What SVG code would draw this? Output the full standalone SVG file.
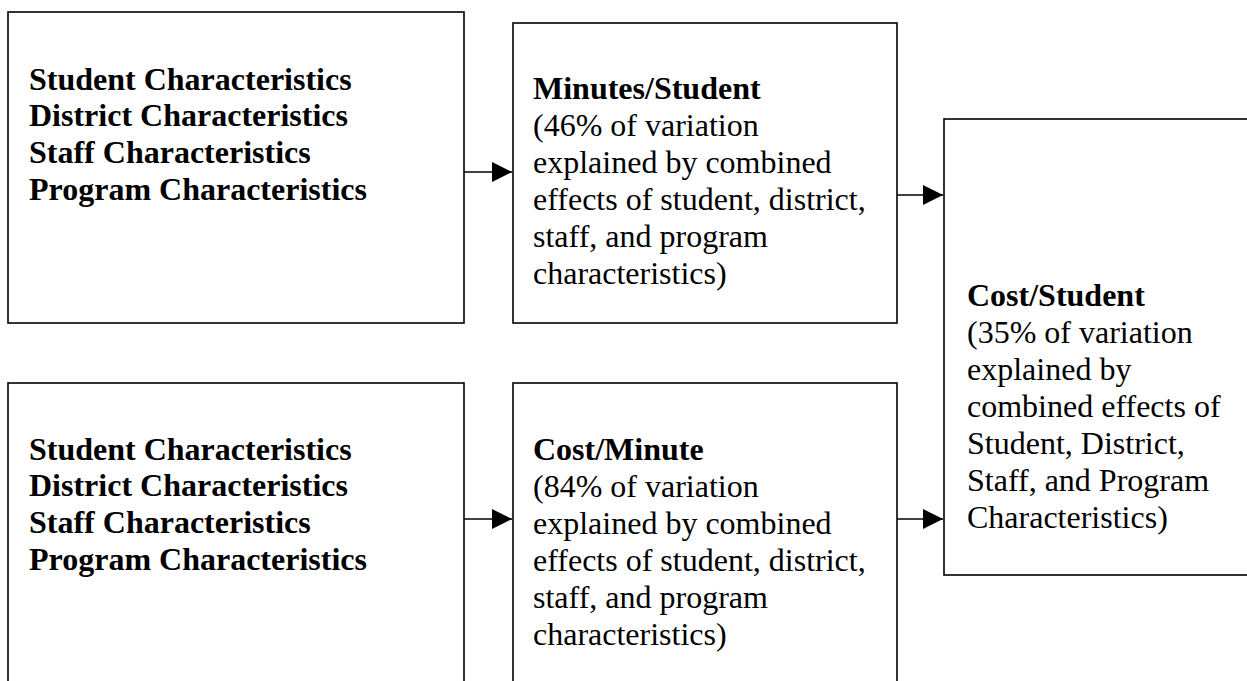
<svg xmlns="http://www.w3.org/2000/svg" width="1247" height="681" viewBox="0 0 1247 681">
  <style>
    .box { fill: #ffffff; stroke: #000000; stroke-width: 1.6; }
    .txt { font-family: "Liberation Serif", "Times New Roman", serif; font-size: 32px; fill: #000000; }
    .b { font-weight: bold; }
    .conn { stroke: #000000; stroke-width: 1.6; fill: none; }
  </style>
  <defs>
    <marker id="arrow" markerUnits="userSpaceOnUse" markerWidth="20" markerHeight="20" refX="20" refY="10" orient="auto">
      <path d="M0,0 L20,10 L0,20 Z" fill="#000000"/>
    </marker>
  </defs>
  <rect width="1247" height="681" fill="#ffffff"/>

  <g id="inputs-top">
    <rect class="box" x="8" y="12" width="456" height="311"/>
    <text class="txt b" x="29">
      <tspan x="29" y="89.5">Student Characteristics</tspan>
      <tspan x="29" y="126.3">District Characteristics</tspan>
      <tspan x="29" y="163.1">Staff Characteristics</tspan>
      <tspan x="29" y="199.9">Program Characteristics</tspan>
    </text>
  </g>

  <g id="minutes-student">
    <rect class="box" x="513" y="23" width="384" height="300"/>
    <text class="txt">
      <tspan class="b" x="533" y="99">Minutes/Student</tspan>
      <tspan x="533" y="136">(46% of variation</tspan>
      <tspan x="533" y="173">explained by combined</tspan>
      <tspan x="533" y="210">effects of student, district,</tspan>
      <tspan x="533" y="247">staff, and program</tspan>
      <tspan x="533" y="284">characteristics)</tspan>
    </text>
  </g>

  <g id="inputs-bottom">
    <rect class="box" x="8" y="383" width="456" height="320"/>
    <text class="txt b">
      <tspan x="29" y="459.5">Student Characteristics</tspan>
      <tspan x="29" y="496.3">District Characteristics</tspan>
      <tspan x="29" y="533.1">Staff Characteristics</tspan>
      <tspan x="29" y="569.9">Program Characteristics</tspan>
    </text>
  </g>

  <g id="cost-minute">
    <rect class="box" x="513" y="383" width="384" height="320"/>
    <text class="txt">
      <tspan class="b" x="533" y="460">Cost/Minute</tspan>
      <tspan x="533" y="497">(84% of variation</tspan>
      <tspan x="533" y="534">explained by combined</tspan>
      <tspan x="533" y="571">effects of student, district,</tspan>
      <tspan x="533" y="608">staff, and program</tspan>
      <tspan x="533" y="645">characteristics)</tspan>
    </text>
  </g>

  <g id="cost-student">
    <rect class="box" x="944" y="119" width="320" height="456"/>
    <text class="txt">
      <tspan class="b" x="967" y="306">Cost/Student</tspan>
      <tspan x="967" y="343">(35% of variation</tspan>
      <tspan x="967" y="380">explained by</tspan>
      <tspan x="967" y="417">combined effects of</tspan>
      <tspan x="967" y="454">Student, District,</tspan>
      <tspan x="967" y="491">Staff, and Program</tspan>
      <tspan x="967" y="528">Characteristics)</tspan>
    </text>
  </g>

  <g id="connectors">
    <line class="conn" x1="464" y1="172" x2="512" y2="172" marker-end="url(#arrow)"/>
    <line class="conn" x1="464" y1="519" x2="512" y2="519" marker-end="url(#arrow)"/>
    <line class="conn" x1="897" y1="195" x2="943" y2="195" marker-end="url(#arrow)"/>
    <line class="conn" x1="897" y1="519" x2="943" y2="519" marker-end="url(#arrow)"/>
  </g>
</svg>
